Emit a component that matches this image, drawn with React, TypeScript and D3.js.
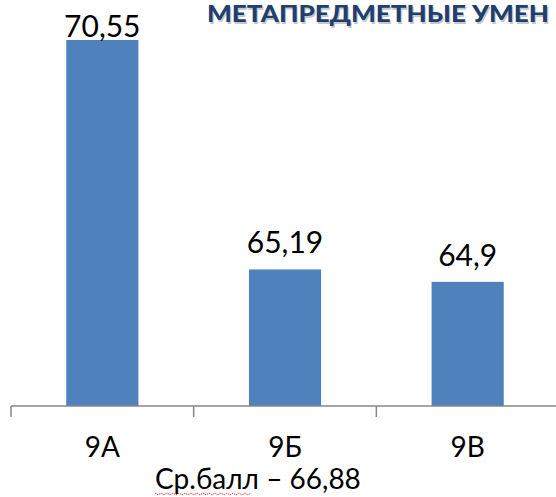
import React from "react";
import * as d3 from "d3";

const categories = ["9А", "9Б", "9В"];
const values = [70.55, 65.19, 64.9];
const valueLabels = ["70,55", "65,19", "64,9"];
const yMin = 62;
const title = "МЕТАПРЕДМЕТНЫЕ УМЕН";
const footer = "Ср.балл – 66,88";

const W = 556;
const H = 497;
const FONT = "Lato, 'Open Sans', sans-serif";

export default function App() {
  const x = d3
    .scaleBand<string>()
    .domain(categories)
    .range([11, 559])
    .paddingInner(0.605)
    .paddingOuter(0.3025);
  const step = x.step();
  const y = d3.scaleLinear().domain([yMin, d3.max(values) as number]).range([406, 40]);
  const tickXs = d3.range(categories.length + 1).map((i) => 11 + i * step);

  // wavy underline path under "Ср.балл"
  const wave: [number, number][] = d3.range(0, 33).map((i) => [155 + i * 3, i % 2 === 0 ? 493 : 495]);
  const waveLine = d3.line()(wave) as string;

  const titleProps = {
    fontFamily: FONT,
    fontWeight: 900,
    fontSize: 22,
    textLength: 342,
    lengthAdjust: "spacingAndGlyphs",
  } as const;

  return (
    <svg
      width={W}
      height={H}
      style={{ position: "absolute", left: 0, top: 0, background: "#fff" }}
    >
      <rect width={W} height={H} fill="#fff" />
      <text x={208.2} y={23.5} {...titleProps} fill="#9a9a9a" opacity={0.55} aria-hidden="true">
        {title}
      </text>
      <text x={207} y={22.3} {...titleProps} fill="#1F3F6E">
        {title}
      </text>
      {categories.map((c, i) => (
        <rect
          key={c}
          x={x(c)}
          y={y(values[i])}
          width={x.bandwidth()}
          height={y(yMin) - y(values[i])}
          fill="#4F81BD"
        />
      ))}
      {categories.map((c, i) => (
        <text
          key={"v" + c}
          x={(x(c) as number) + x.bandwidth() / 2}
          y={Math.max(y(values[i]) - 16, 37)}
          textAnchor="middle"
          fontFamily={FONT}
          fontSize={30}
          fill="#000"
        >
          {valueLabels[i]}
        </text>
      ))}
      <line x1={11} x2={W} y1={y(yMin)} y2={y(yMin)} stroke="#868686" strokeWidth={1.5} />
      {tickXs.map((tx, i) => (
        <line key={"t" + i} x1={tx} x2={tx} y1={y(yMin)} y2={y(yMin) + 11} stroke="#868686" strokeWidth={1.5} />
      ))}
      {categories.map((c) => (
        <text
          key={"c" + c}
          x={(x(c) as number) + x.bandwidth() / 2}
          y={457}
          textAnchor="middle"
          fontFamily={FONT}
          fontSize={28}
          fill="#000"
        >
          {c}
        </text>
      ))}
      <text x={155} y={489} fontFamily={FONT} fontSize={28} fill="#000">
        {footer}
      </text>
      <path d={waveLine} fill="none" stroke="#e03030" strokeWidth={1} strokeDasharray="1.5,1" />
    </svg>
  );
}
